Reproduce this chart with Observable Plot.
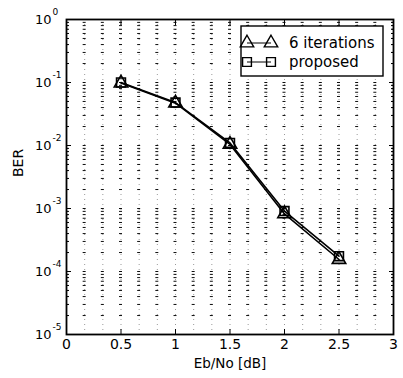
<!DOCTYPE html>
<html>
<head>
<meta charset="utf-8">
<script src="https://cdn.jsdelivr.net/npm/d3@7"></script>
<script src="https://cdn.jsdelivr.net/npm/@observablehq/plot@0.6"></script>
<style>
  html, body { margin: 0; padding: 0; background: #fff; }
  svg { font-family: "DejaVu Sans", sans-serif; }
</style>
</head>
<body>
<div id="chart"></div>
<script>
// ---- data ----
const ebno = [0.5, 1, 1.5, 2, 2.5];
const berIterations = [0.098, 0.047, 0.0104, 8.2e-4, 1.55e-4];
const berProposed = [0.1, 0.048, 0.011, 9.1e-4, 1.75e-4];
const seriesNames = ["6 iterations", "proposed"];
const xTicks = [0, 0.5, 1, 1.5, 2, 2.5, 3];
const xTickLabels = ["0", "0.5", "1", "1.5", "2", "2.5", "3"];
const yDecades = [1e-5, 1e-4, 1e-3, 1e-2, 1e-1, 1e0];
const yExponents = ["-5", "-4", "-3", "-2", "-1", "0"];
const xGrid = [1,2,3,4,5,6,7,8,9,10,11,12,13,14,15,16,17].map(k => k / 6);
const yMinor = [];
for (let e = -5; e < 0; e++) for (let m = 1; m <= 9; m++) yMinor.push(m * Math.pow(10, e));

const W = 403, H = 378;
const mL = 66, mR = 10, mT = 19, mB = 44;
const plotW = W - mL - mR;
const gridStep = plotW / 18;

const rows1 = ebno.map((x, i) => ({x, y: berIterations[i]}));
const rows2 = ebno.map((x, i) => ({x, y: berProposed[i]}));

const plot = Plot.plot({
  width: W, height: H,
  marginLeft: mL, marginRight: mR, marginTop: mT, marginBottom: mB,
  style: {fontFamily: "DejaVu Sans, sans-serif", fontSize: "13px", color: "#000", background: "#fff"},
  x: {domain: [0, 3], axis: null},
  y: {type: "log", domain: [1e-5, 1], axis: null},
  marks: [
    // grid: horizontal dashed lines aligned with the vertical grid
    Plot.ruleY(yMinor, {stroke: "#000", strokeWidth: 1, strokeOpacity: 0.95,
      strokeDasharray: `3 ${gridStep - 3}`, strokeDashoffset: 1.5}),
    Plot.ruleX(xGrid, {stroke: "#000", strokeWidth: 1, strokeOpacity: 0.4, strokeDasharray: "1 4"}),
    // ticks (inward)
    Plot.axisX({ticks: xTicks, tickSize: -5, tickFormat: () => "", label: null}),
    Plot.axisX({anchor: "top", ticks: xTicks, tickSize: -5, tickFormat: () => "", label: null}),
    Plot.axisY({ticks: yDecades, tickSize: -5, tickFormat: () => "", label: null}),
    Plot.axisY({anchor: "right", ticks: yDecades, tickSize: -5, tickFormat: () => "", label: null}),
    Plot.axisY({ticks: yMinor, tickSize: -3, tickFormat: () => "", label: null}),
    Plot.axisY({anchor: "right", ticks: yMinor, tickSize: -3, tickFormat: () => "", label: null}),
    // tick labels
    Plot.text(xTicks, {x: d => d, frameAnchor: "bottom", dy: 14, fontSize: 14,
      text: (d, i) => xTickLabels[i]}),
    Plot.text(yDecades, {y: d => d, frameAnchor: "left", dx: -15, textAnchor: "end",
      fontSize: 13, text: () => "10"}),
    Plot.text(yDecades, {y: d => d, frameAnchor: "left", dx: -14, dy: -7, textAnchor: "start",
      fontSize: 9, text: (d, i) => yExponents[i]}),
    // axis titles
    Plot.text(["Eb/No [dB]"], {frameAnchor: "bottom", dy: 33, fontSize: 13.5}),
    Plot.text(["BER"], {frameAnchor: "left", dx: -48, rotate: -90, fontSize: 14}),
    // frame
    Plot.frame({stroke: "#000", strokeWidth: 1.8}),
    // data
    Plot.line(rows1, {x: "x", y: "y", stroke: "#000", strokeWidth: 1.6}),
    Plot.line(rows2, {x: "x", y: "y", stroke: "#000", strokeWidth: 1.6}),
    Plot.dot(rows1, {x: "x", y: "y", symbol: "triangle", r: 5, stroke: "#000", strokeWidth: 1.6, fill: "none"}),
    Plot.dot(rows2, {x: "x", y: "y", symbol: "square", r: 5, stroke: "#000", strokeWidth: 1.6, fill: "none"})
  ]
});

// ---- legend (drawn into the SVG) ----
const svg = d3.select(plot);
const lgW = 142, lgH = 50;
const lgX = W - mR - 10 - lgW, lgY = mT + 7;
const g = svg.append("g").attr("transform", `translate(${lgX},${lgY})`)
  .attr("text-anchor", "start");
g.append("rect").attr("width", lgW).attr("height", lgH)
  .attr("fill", "#fff").attr("stroke", "#000").attr("stroke-width", 1.4);
const symbols = [d3.symbolTriangle, d3.symbolSquare];
seriesNames.forEach((name, i) => {
  const cy = 17 + i * 19;
  g.append("line").attr("x1", 6).attr("x2", 30).attr("y1", cy).attr("y2", cy)
    .attr("stroke", "#000").attr("stroke-width", 1);
  [6, 30].forEach(cx => {
    g.append("path").attr("d", d3.symbol(symbols[i], 78)())
      .attr("transform", `translate(${cx},${cy})`)
      .attr("fill", "none").attr("stroke", "#000").attr("stroke-width", 1.4);
  });
  g.append("text").attr("x", 48).attr("y", cy).attr("dy", "0.35em")
    .attr("text-anchor", "start")
    .style("font-size", "15px").attr("fill", "#000").text(name);
});

document.getElementById("chart").appendChild(plot);
</script>
</body>
</html>
